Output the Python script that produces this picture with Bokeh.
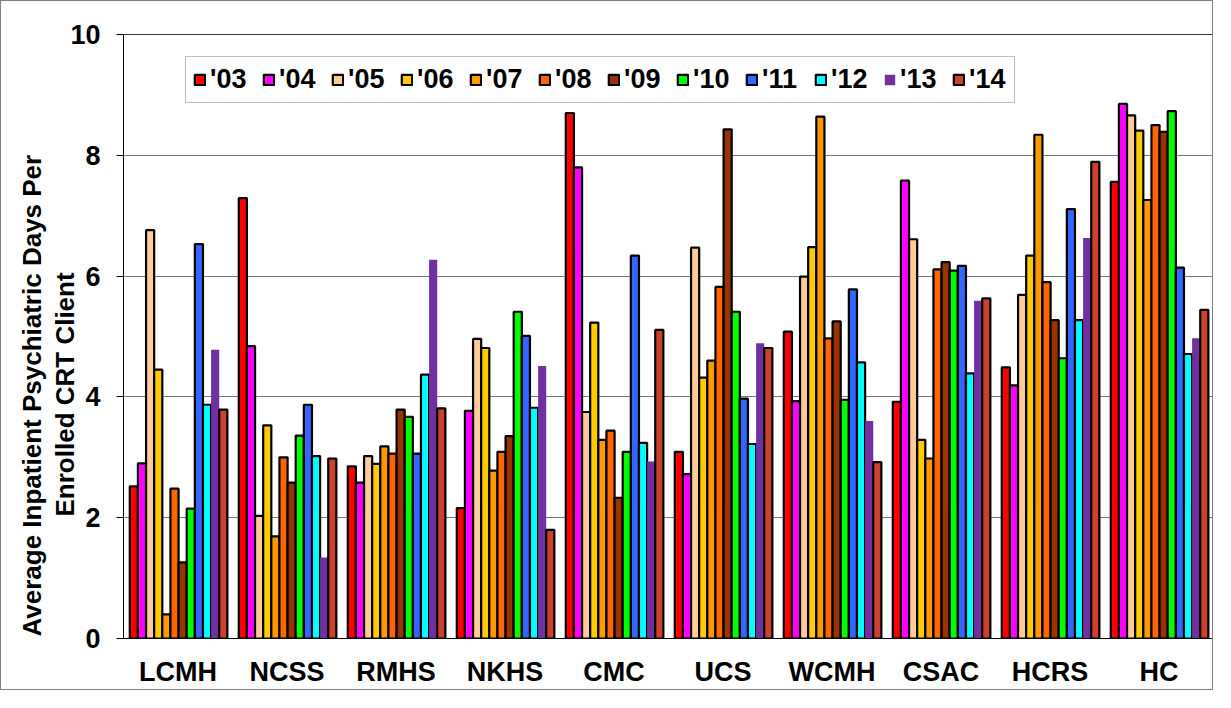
from bokeh.plotting import figure
from bokeh.models import (ColumnDataSource, FactorRange, Range1d, FixedTicker,
                          Legend, LegendItem, Title)
from bokeh.transform import dodge
from bokeh.embed import file_html
from bokeh.resources import INLINE

categories = ["LCMH", "NCSS", "RMHS", "NKHS", "CMC", "UCS", "WCMH", "CSAC", "HCRS", "HC"]
years = ["'03", "'04", "'05", "'06", "'07", "'08", "'09", "'10", "'11", "'12", "'13", "'14"]

y03 = [2.52, 7.29, 2.85, 2.16, 8.70, 3.09, 5.08, 3.92, 4.49, 7.56]
y04 = [2.90, 4.84, 2.58, 3.77, 7.80, 2.72, 3.93, 7.58, 4.19, 8.85]
y05 = [6.76, 2.03, 3.02, 4.96, 3.75, 6.47, 5.99, 6.61, 5.69, 8.66]
y06 = [4.45, 3.53, 2.89, 4.81, 5.23, 4.32, 6.48, 3.29, 6.34, 8.41]
y07 = [0.40, 1.69, 3.18, 2.78, 3.29, 4.60, 8.64, 2.98, 8.34, 7.26]
y08 = [2.48, 3.00, 3.06, 3.09, 3.44, 5.82, 4.97, 6.11, 5.90, 8.50]
y09 = [1.26, 2.58, 3.79, 3.35, 2.33, 8.43, 5.25, 6.23, 5.27, 8.39]
y10 = [2.15, 3.36, 3.67, 5.41, 3.09, 5.41, 3.95, 6.09, 4.64, 8.73]
y11 = [6.53, 3.87, 3.06, 5.01, 6.34, 3.97, 5.78, 6.17, 7.11, 6.14]
y12 = [3.87, 3.02, 4.37, 3.82, 3.24, 3.22, 4.57, 4.39, 5.27, 4.71]
y13 = [4.78, 1.34, 6.27, 4.51, 2.93, 4.89, 3.60, 5.59, 6.63, 4.97]
y14 = [3.79, 2.98, 3.81, 1.80, 5.11, 4.81, 2.92, 5.63, 7.89, 5.44]

colors = ["#FF0000", "#FF00FF", "#FFCC99", "#FFCC00", "#FF9900", "#FF6600",
          "#993300", "#00FF00", "#3366FF", "#00FFFF", "#7030A0", "#CC4030"]

series = [y03, y04, y05, y06, y07, y08, y09, y10, y11, y12, y13, y14]
keys = ["y03", "y04", "y05", "y06", "y07", "y08", "y09", "y10", "y11", "y12", "y13", "y14"]

data = {"cat": categories}
for k, s in zip(keys, series):
    data[k] = s
source = ColumnDataSource(data)

FONT = "Liberation Sans"
FS = "27px"

p = figure(x_range=FactorRange(factors=categories, range_padding=0),
           y_range=Range1d(0, 10),
           width=1213, height=690,
           output_backend="svg", toolbar_location=None,
           min_border_left=121, min_border_right=1,
           min_border_top=33, min_border_bottom=53)
p.styles = {"border": "1px solid #808080"}
p.background_fill_color = "white"
p.border_fill_color = "white"
p.outline_line_color = "#333333"
p.outline_line_width = 1

bw = 0.0746
items = []
for i, (k, c, yr) in enumerate(zip(keys, colors, years)):
    off = -0.41 + i * bw + 0.005
    r = p.vbar(x=dodge("cat", off, range=p.x_range), top=k, width=bw,
               source=source, fill_color=c,
               line_color=None if yr == "'13" else "black",
               line_width=2.2)
    items.append(LegendItem(label=yr, renderers=[r]))

legend = Legend(items=items, orientation="horizontal", location=(62, 535),
                label_text_font=FONT, label_text_font_size=FS,
                label_text_font_style="bold", label_text_color="black",
                glyph_width=13, glyph_height=13, label_standoff=4,
                label_width=38, label_height=28, spacing=14,
                padding=7, margin=0,
                border_line_color="#808080", border_line_width=1,
                background_fill_color="white", background_fill_alpha=1)
p.add_layout(legend)

# axes
p.yaxis.ticker = FixedTicker(ticks=[0, 2, 4, 6, 8, 10])
p.yaxis.major_tick_out = 7
p.yaxis.major_tick_in = 0
p.yaxis.minor_tick_line_color = None
p.yaxis.major_label_standoff = 16
p.yaxis.axis_line_color = "black"
p.yaxis.major_tick_line_color = "black"
for ax in (p.xaxis, p.yaxis):
    ax.major_label_text_font = FONT
    ax.major_label_text_font_size = FS
    ax.major_label_text_font_style = "bold"
    ax.major_label_text_color = "black"

p.xaxis.major_tick_line_color = None
p.xaxis.minor_tick_line_color = None
p.xaxis.major_label_standoff = 12
p.xaxis.axis_line_color = "black"

p.xgrid.grid_line_color = None
p.ygrid.grid_line_color = "#777777"
p.ygrid.grid_line_width = 1

# two-line y-axis title (closest line added first)
ylab1 = "Average Inpatient Psychiatric Days Per"
ylab2 = "Enrolled CRT Client"
for txt, off, so in ((ylab2, 122, -24), (ylab1, 2, 26)):
    p.add_layout(Title(text=txt, align="left", offset=off, standoff=so,
                       text_font=FONT, text_font_size="26px",
                       text_font_style="bold", text_color="black"), "left")

open("out.html", "w").write(file_html(p, INLINE))
